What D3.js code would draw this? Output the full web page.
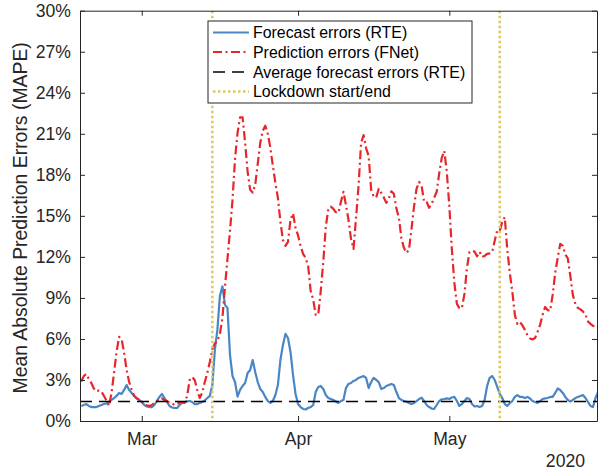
<!DOCTYPE html>
<html>
<head>
<meta charset="utf-8">
<script src="https://cdn.jsdelivr.net/npm/d3@7"></script>
<style>
  html, body { margin: 0; padding: 0; background: #fff; }
  svg { display: block; font-family: "Liberation Sans", Arial, Helvetica, sans-serif; }
</style>
</head>
<body>
<svg id="chart" width="598" height="474"></svg>
<script>
// ---- data (every 12 h, 18 Feb 2020 00:00 .. 30 May 2020 12:00) ----
const dates = d3.timeHour.every(12).range(new Date(2020, 1, 18), new Date(2020, 4, 30, 13));

const forecastErrorsRTE = [
  1.10,1.17,1.24,1.10,1.02,1.02,1.02,1.10,1.17,1.24,
  1.28,1.39,1.54,1.68,1.83,2.05,1.98,2.27,2.63,2.27,
  2.05,1.83,1.68,1.54,1.39,1.17,1.06,1.02,1.02,1.17,
  1.46,1.76,1.98,1.68,1.39,1.10,0.99,0.95,0.95,1.17,
  1.32,1.39,1.43,1.46,1.39,1.24,1.24,1.32,1.39,1.50,
  1.68,1.83,2.63,5.20,6.66,9.15,9.85,8.49,8.27,4.83,
  3.29,2.85,1.78,2.27,2.56,2.78,3.51,3.73,4.46,3.59,
  2.85,2.34,2.12,1.76,1.46,1.32,1.46,1.90,2.63,4.46,
  5.56,6.37,6.07,5.05,3.37,1.98,1.24,1.02,0.88,0.84,
  0.95,1.02,1.17,2.12,2.49,2.56,2.34,1.90,1.68,1.61,
  1.54,1.43,1.32,1.46,1.54,2.41,2.71,2.78,2.93,3.00,
  3.15,3.22,3.29,3.15,2.41,2.85,3.15,3.00,2.85,2.34,
  2.41,2.56,2.63,2.71,2.63,2.12,1.68,1.54,1.46,1.41,
  1.32,1.24,1.32,1.46,1.61,1.70,1.46,1.17,1.02,0.91,
  0.88,1.17,1.46,1.59,1.61,1.65,1.61,1.72,1.76,1.46,
  1.10,1.24,1.46,1.68,1.61,1.24,1.06,1.10,1.02,1.10,
  1.54,2.56,3.15,3.29,3.00,2.49,1.98,1.68,1.24,1.10,
  1.32,1.46,1.76,1.90,1.76,1.76,1.68,1.76,1.65,1.46,
  1.39,1.32,1.46,1.61,1.65,1.68,1.76,1.76,2.05,2.38,
  2.27,2.05,1.76,1.54,1.43,1.54,1.68,1.76,1.83,1.90,
  1.68,1.39,1.10,1.02,1.68,2.12
];

const predictionErrorsFNet = [
  2.89,3.29,3.44,3.07,2.78,2.38,2.16,2.23,2.16,1.83,
  1.50,1.10,2.05,3.51,5.05,6.15,6.00,4.98,3.73,2.85,
  2.30,1.83,1.65,1.57,1.43,1.21,1.15,1.10,1.17,1.32,
  1.46,1.61,1.65,1.54,1.46,1.35,1.28,1.17,1.24,1.35,
  1.39,1.32,1.83,3.00,3.22,3.00,2.27,1.68,2.09,2.85,
  3.51,4.32,5.27,5.67,5.85,6.37,7.54,9.80,11.85,13.90,
  16.17,19.17,21.07,22.21,22.21,20.34,18.22,16.90,16.70,17.27,
  18.80,20.34,21.22,21.59,21.00,19.98,18.66,17.41,16.32,14.56,
  13.24,12.80,13.10,14.71,15.18,14.12,13.57,12.80,12.22,11.93,
  11.34,9.51,8.89,7.76,7.76,9.51,11.63,14.20,15.48,15.68,
  15.51,15.26,15.22,16.02,16.76,15.80,14.71,13.32,12.59,14.85,
  17.20,20.34,20.90,19.94,19.39,16.90,16.39,16.35,16.98,16.68,
  16.35,15.95,16.28,16.79,16.61,15.55,14.85,13.35,12.66,12.29,
  12.51,14.05,15.68,16.98,17.49,17.20,16.02,16.02,15.59,15.88,
  16.32,16.76,18.12,19.24,19.76,18.22,15.73,12.59,10.10,8.56,
  8.25,8.25,9.29,11.19,12.37,12.44,12.39,12.04,12.37,12.00,
  12.07,12.22,12.26,12.37,13.17,13.94,13.90,14.56,14.90,12.51,
  10.83,9.44,7.76,7.10,7.24,6.99,6.66,6.26,6.04,5.96,
  6.07,6.51,7.02,7.76,8.34,8.12,8.05,9.22,10.83,11.93,
  12.95,12.80,12.18,11.89,10.61,9.22,8.56,8.27,8.16,8.01,
  7.79,7.28,7.10,6.95,6.91,6.88
];

const averageForecastError = 1.43;
const lockdownDates = [new Date(2020, 2, 15), new Date(2020, 4, 11)];

const yTicks = [0, 3, 6, 9, 12, 15, 18, 21, 24, 27, 30];
const xTicks = [new Date(2020, 2, 1), new Date(2020, 3, 1), new Date(2020, 4, 1)];
const xTickLabels = ["Mar", "Apr", "May"];
const yearLabel = "2020";
const yLabel = "Mean Absolute Prediction Errors (MAPE)";
const legendLabels = [
  "Forecast errors (RTE)",
  "Prediction errors (FNet)",
  "Average forecast errors (RTE)",
  "Lockdown start/end"
];

// ---- layout ----
const L = 80, R = 597, T = 10.7, B = 421;
const axisColor = "#262626";
const cBlue = "#4a86c5", cRed = "#e8262a", cBlack = "#000000", cYellow = "#dcc764";

const svg = d3.select("#chart");
const x = d3.scaleTime()
  .domain([new Date(2020, 1, 17, 18), new Date(2020, 4, 30, 7)])
  .range([L, R]);
const y = d3.scaleLinear().domain([0, 30]).range([B, T]);

svg.append("clipPath").attr("id", "clip")
  .append("rect").attr("x", L).attr("y", T).attr("width", R - L).attr("height", B - T);

const plot = svg.append("g").attr("clip-path", "url(#clip)");

const line = d3.line().x((d, i) => x(dates[i])).y(d => y(d));

plot.append("path").datum(forecastErrorsRTE)
  .attr("d", line).attr("fill", "none")
  .attr("stroke", cBlue).attr("stroke-width", 2.2).attr("stroke-linejoin", "round");

plot.append("path").datum(predictionErrorsFNet)
  .attr("d", line).attr("fill", "none")
  .attr("stroke", cRed).attr("stroke-width", 2.2).attr("stroke-linejoin", "round")
  .attr("stroke-dasharray", "9,3.5,2,3.5");

plot.append("line")
  .attr("x1", L).attr("x2", R)
  .attr("y1", y(averageForecastError)).attr("y2", y(averageForecastError))
  .attr("stroke", cBlack).attr("stroke-width", 1.5).attr("stroke-dasharray", "12,7");

plot.selectAll("line.lock").data(lockdownDates).enter().append("line")
  .attr("class", "lock")
  .attr("x1", d => x(d)).attr("x2", d => x(d))
  .attr("y1", T).attr("y2", B)
  .attr("stroke", cYellow).attr("stroke-width", 2.5).attr("stroke-dasharray", "2.5,2.5");

// ---- axes ----
const fs = 17.6;
const axL = d3.axisLeft(y).tickValues(yTicks).tickFormat(d => d + "%").tickSizeInner(-5).tickSizeOuter(0).tickPadding(9);
const gL = svg.append("g").attr("transform", `translate(${L},0)`).call(axL);
const axR = d3.axisRight(y).tickValues(yTicks).tickFormat("").tickSizeInner(-5).tickSizeOuter(0);
const gR = svg.append("g").attr("transform", `translate(${R},0)`).call(axR);
const axB = d3.axisBottom(x).tickValues(xTicks).tickFormat((d, i) => xTickLabels[i]).tickSizeInner(-5).tickSizeOuter(0).tickPadding(12);
const gB = svg.append("g").attr("transform", `translate(0,${B})`).call(axB);
const axT = d3.axisTop(x).tickValues(xTicks).tickFormat("").tickSizeInner(-5).tickSizeOuter(0);
const gT = svg.append("g").attr("transform", `translate(0,${T})`).call(axT);

[gL, gR, gB, gT].forEach(g => {
  g.select(".domain").attr("stroke", axisColor).attr("stroke-width", 1);
  g.selectAll(".tick line").attr("stroke", axisColor).attr("stroke-width", 1);
  g.selectAll(".tick text").attr("fill", axisColor).style("font-size", fs + "px")
    .style("font-family", '"Liberation Sans", Arial, sans-serif');
});
gB.selectAll(".tick text").attr("dy", "0.71em");

svg.append("text")
  .attr("x", 585).attr("y", 467)
  .attr("text-anchor", "end")
  .attr("fill", axisColor)
  .style("font-size", fs + "px")
  .text(yearLabel);

svg.append("text")
  .attr("transform", `translate(27,${(T + B) / 2 + 2}) rotate(-90)`)
  .attr("text-anchor", "middle")
  .attr("fill", axisColor)
  .style("font-size", "19.4px")
  .text(yLabel);

// ---- legend ----
const lg = svg.append("g");
const lx = 208, ly = 21, lw = 264, lh = 82;
lg.append("rect").attr("x", lx).attr("y", ly).attr("width", lw).attr("height", lh)
  .attr("fill", "#fff").attr("stroke", axisColor).attr("stroke-width", 1);
const styles = [
  { c: cBlue, w: 2.2, d: null },
  { c: cRed, w: 2.2, d: "9,3.5,2,3.5" },
  { c: cBlack, w: 1.5, d: "12,7" },
  { c: cYellow, w: 2.5, d: "2.5,2.5" }
];
const rowY = [32.5, 52, 72, 91.5];
legendLabels.forEach((lab, i) => {
  const s = styles[i];
  const ln = lg.append("line").attr("x1", 213).attr("x2", 249).attr("y1", rowY[i]).attr("y2", rowY[i])
    .attr("stroke", s.c).attr("stroke-width", s.w);
  if (s.d) ln.attr("stroke-dasharray", s.d);
  lg.append("text").attr("x", 253).attr("y", rowY[i]).attr("dy", "0.35em")
    .attr("fill", "#000").style("font-size", "15.9px").text(lab);
});
</script>
</body>
</html>
